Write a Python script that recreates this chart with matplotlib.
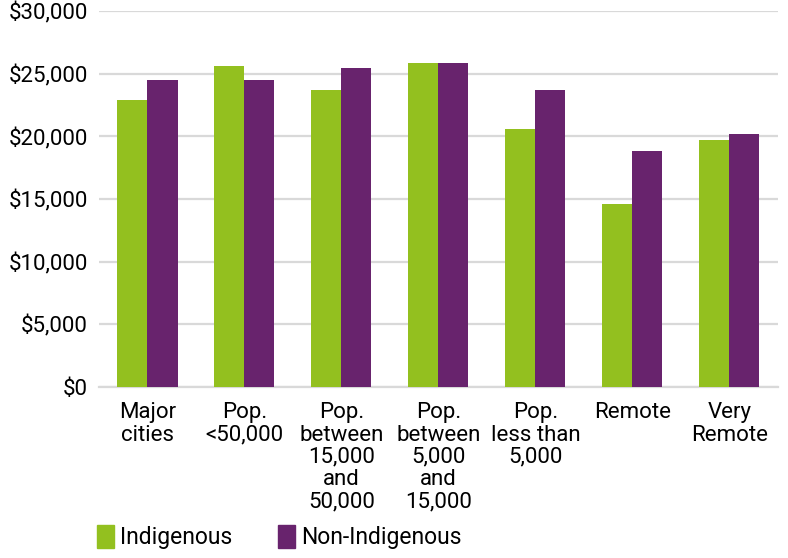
import matplotlib.pyplot as plt
import numpy as np
from matplotlib.patches import Patch
from matplotlib.ticker import FuncFormatter

plt.rcParams['font.family'] = ['Roboto', 'DejaVu Sans']

categories = ["Major\ncities", "Pop.\n<50,000", "Pop.\nbetween\n15,000\nand\n50,000",
              "Pop.\nbetween\n5,000\nand\n15,000", "Pop.\nless than\n5,000", "Remote", "Very\nRemote"]
indigenous = [22900, 25600, 23700, 25900, 20600, 14600, 19700]
non_indigenous = [24500, 24500, 25500, 25900, 23700, 18800, 20200]

green = '#93c01f'
purple = '#68236d'

fig = plt.figure(figsize=(7.88, 5.58), dpi=100)
ax = fig.add_axes([0.1256, 0.3065, 0.8614, 0.6735])

x = np.arange(len(categories))
w = 0.31
ax.bar(x - w / 2, indigenous, w, color=green, zorder=3)
ax.bar(x + w / 2, non_indigenous, w, color=purple, zorder=3)

ax.set_xlim(-0.5, len(categories) - 0.5)
ax.set_ylim(0, 30000)
ax.set_yticks(np.arange(0, 30001, 5000))
ax.yaxis.set_major_formatter(FuncFormatter(lambda v, p: f"${v:,.0f}"))
ax.grid(axis='y', color='#d9d9d9', linewidth=1.6, zorder=0)
for s in ['top', 'right', 'left']:
    ax.spines[s].set_visible(False)
ax.spines['bottom'].set_color('#d9d9d9')
ax.spines['bottom'].set_linewidth(1.6)
ax.tick_params(axis='both', length=0, labelsize=16, colors='#000000')
ax.tick_params(axis='y', pad=8)
ax.tick_params(axis='x', pad=11)
ax.set_xticks(x)
ax.set_xticklabels(categories, linespacing=1.08, va='top')

handles = [Patch(color=green, label='Indigenous'), Patch(color=purple, label='Non-Indigenous')]
fig.legend(handles=handles, loc='lower left', bbox_to_anchor=(0.123, 0.016), ncol=2, frameon=False,
           borderpad=0, borderaxespad=0, fontsize=16.5, handlelength=0.75, handleheight=1.15,
           handletextpad=0.25, columnspacing=2.0)

fig.savefig('out.png', dpi=100)
